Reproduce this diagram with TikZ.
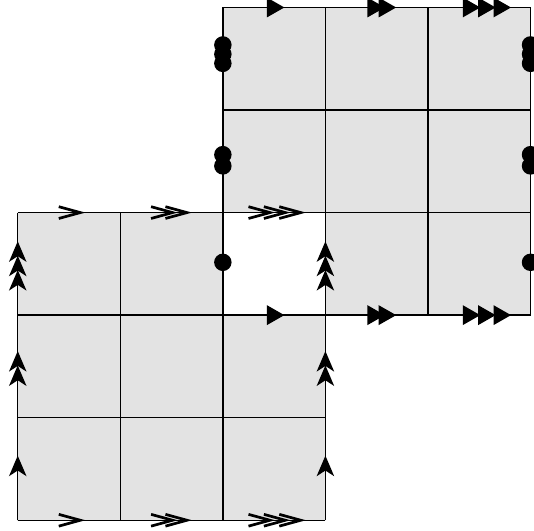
\documentclass[tikz,border=0pt]{standalone}
\usepackage{tikz}
\usetikzlibrary{arrows.meta,decorations.markings}

\tikzset{
    tri/.tip={Triangle[length=1.7mm, width=1.9mm]},
    stl/.tip={Stealth[length=2mm, width=1.7mm, inset=0.55mm]},
    barb/.tip={Straight Barb[length=2.1mm, width=1.15mm, line width=0.75pt]},
    bead/.tip={Circle[length=1.7mm]},
}

\begin{document}
\begin{tikzpicture}[
    cellfill/.style={fill=black!11},
    gridline/.style={draw=black, line width=0.4pt},
    mk/.style 2 args={postaction={decorate, decoration={markings, mark=at position #1 with {\arrow{#2}}}}},
]
\useasboundingbox (-0.173,-0.097) rectangle (5.034,5.073);

% shaded cells (the shared square stays white)
\fill[cellfill] (0,0) rectangle (3,2) (0,2) rectangle (2,3);
\fill[cellfill] (3,2) rectangle (5,5) (2,3) rectangle (3,5);

% the two grids
\draw[gridline] (0,0) grid (3,3);
\draw[gridline] (2,2) grid (5,5);

% lower square: bottom and top edges
\path[mk={0.66}{barb}] (0,0) -- (1,0);
\path[mk={0.56}{barb}, mk={0.70}{barb}] (1,0) -- (2,0);
\path[mk={0.51}{barb}, mk={0.66}{barb}, mk={0.81}{barb}] (2,0) -- (3,0);
\path[mk={0.66}{barb}] (0,3) -- (1,3);
\path[mk={0.56}{barb}, mk={0.70}{barb}] (1,3) -- (2,3);
\path[mk={0.51}{barb}, mk={0.66}{barb}, mk={0.81}{barb}] (2,3) -- (3,3);

% lower square: left and right edges
\path[mk={0.63}{stl}] (0,0) -- (0,1);
\path[mk={0.51}{stl}, mk={0.65}{stl}] (0,1) -- (0,2);
\path[mk={0.44}{stl}, mk={0.58}{stl}, mk={0.72}{stl}] (0,2) -- (0,3);
\path[mk={0.63}{stl}] (3,0) -- (3,1);
\path[mk={0.51}{stl}, mk={0.65}{stl}] (3,1) -- (3,2);
\path[mk={0.44}{stl}, mk={0.58}{stl}, mk={0.72}{stl}] (3,2) -- (3,3);

% upper square: bottom and top edges
\path[mk={0.60}{tri}] (2,2) -- (3,2);
\path[mk={0.58}{tri}, mk={0.69}{tri}] (3,2) -- (4,2);
\path[mk={0.51}{tri}, mk={0.66}{tri}, mk={0.81}{tri}] (4,2) -- (5,2);
\path[mk={0.60}{tri}] (2,5) -- (3,5);
\path[mk={0.58}{tri}, mk={0.69}{tri}] (3,5) -- (4,5);
\path[mk={0.51}{tri}, mk={0.66}{tri}, mk={0.81}{tri}] (4,5) -- (5,5);

% upper square: left and right edges
\path[mk={0.60}{bead}] (2,2) -- (2,3);
\path[mk={0.54}{bead}, mk={0.65}{bead}] (2,3) -- (2,4);
\path[mk={0.54}{bead}, mk={0.63}{bead}, mk={0.72}{bead}] (2,4) -- (2,5);
\path[mk={0.60}{bead}] (5,2) -- (5,3);
\path[mk={0.54}{bead}, mk={0.65}{bead}] (5,3) -- (5,4);
\path[mk={0.54}{bead}, mk={0.63}{bead}, mk={0.72}{bead}] (5,4) -- (5,5);
\end{tikzpicture}
\end{document}
